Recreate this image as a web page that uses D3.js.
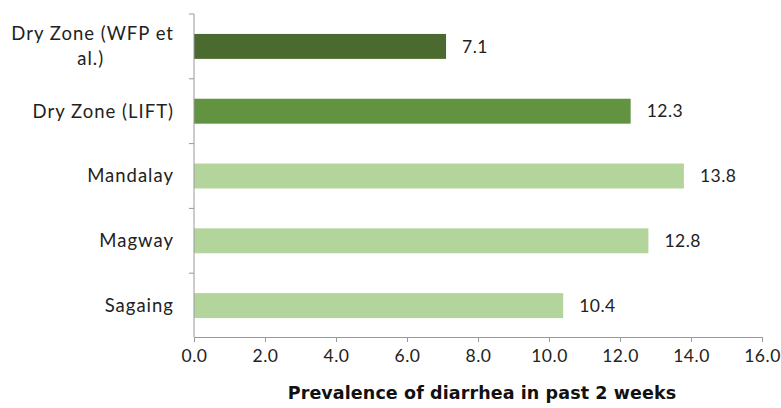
<!DOCTYPE html>
<html>
<head>
<meta charset="utf-8">
<script src="https://cdn.jsdelivr.net/npm/d3@7"></script>
<style>
  body { margin: 0; background: #fff; }
  svg { display: block; font-family: Lato, "Open Sans", sans-serif; }
</style>
</head>
<body>
<svg width="781" height="408"></svg>
<script>
// chart data
var categories = ["Dry Zone (WFP et al.)", "Dry Zone (LIFT)", "Mandalay", "Magway", "Sagaing"];
var values = [7.1, 12.3, 13.8, 12.8, 10.4];
var barColors = ["#4b6a2f", "#629341", "#b3d59c", "#b3d59c", "#b3d59c"];
var xTicks = [0, 2, 4, 6, 8, 10, 12, 14, 16];
var xTitle = "Prevalence of diarrhea in past 2 weeks";

var svg = d3.select("svg");
var data = categories.map(function(c, i) {
  return { name: c, value: values[i], color: barColors[i] };
});

var x = d3.scaleLinear().domain([0, 16]).range([194, 762]);
var y = d3.scaleBand().domain(categories).range([14, 338]).paddingInner(0.615).paddingOuter(0.3075);

// bars
svg.append("g").selectAll("rect")
  .data(data)
  .enter().append("rect")
  .attr("x", x(0))
  .attr("y", function(d) { return y(d.name); })
  .attr("width", function(d) { return x(d.value) - x(0); })
  .attr("height", y.bandwidth())
  .attr("fill", function(d) { return d.color; });

// value labels
svg.append("g").selectAll("text")
  .data(data)
  .enter().append("text")
  .attr("x", function(d) { return x(d.value) + 16; })
  .attr("y", function(d) { return y(d.name) + y.bandwidth() / 2; })
  .attr("dy", "0.35em")
  .attr("font-size", 17.5)
  .attr("letter-spacing", 0.5)
  .attr("fill", "#222")
  .text(function(d) { return d.value.toFixed(1); });

// x axis
var xAxis = svg.append("g")
  .attr("transform", "translate(0,337)")
  .call(d3.axisBottom(x).tickValues(xTicks).tickSize(5).tickPadding(8)
    .tickFormat(function(d) { return d.toFixed(1); }));
xAxis.select(".domain").attr("stroke", "#999");
xAxis.selectAll(".tick line").attr("stroke", "#999");
xAxis.selectAll("text").attr("font-size", 17.5).attr("fill", "#222")
  .attr("letter-spacing", 0.5)
  .attr("font-family", "Lato, 'Open Sans', sans-serif");

// y axis line and ticks at category boundaries
var step = y.step();
var bounds = d3.range(categories.length).map(function(i) { return 14 + i * step; });
svg.append("line")
  .attr("x1", x(0)).attr("x2", x(0))
  .attr("y1", 14).attr("y2", 337)
  .attr("stroke", "#999");
svg.append("g").selectAll("line")
  .data(bounds)
  .enter().append("line")
  .attr("x1", x(0) - 5).attr("x2", x(0))
  .attr("y1", function(d) { return d; }).attr("y2", function(d) { return d; })
  .attr("stroke", "#999");

// category labels, wrapped like the original
var labelLines = {
  "Dry Zone (WFP et al.)": ["Dry Zone (WFP et", "al.)"]
};
categories.forEach(function(c) {
  var lines = labelLines[c] || [c];
  var cy = y(c) + y.bandwidth() / 2;
  var g = svg.append("g");
  var texts = lines.map(function(line, i) {
    return g.append("text")
      .attr("x", 174)
      .attr("y", cy + (i - (lines.length - 1) / 2) * 25)
      .attr("dy", "0.35em")
      .attr("text-anchor", "end")
      .attr("font-size", 18.5)
      .attr("letter-spacing", 1)
      .attr("fill", "#222")
      .text(line);
  });
  if (lines.length > 1) {
    // later lines centred under the first one
    var w0 = texts[0].node().getComputedTextLength();
    texts.slice(1).forEach(function(t) {
      t.attr("text-anchor", "middle").attr("x", 172 - w0 / 2);
    });
  }
});

// axis title
svg.append("text")
  .attr("x", 482)
  .attr("y", 399)
  .attr("text-anchor", "middle")
  .attr("font-family", "'DejaVu Sans', sans-serif")
  .attr("font-size", 17.5)
  .attr("font-weight", "bold")
  .attr("letter-spacing", 0.1)
  .attr("fill", "#111")
  .text(xTitle);
</script>
</body>
</html>
